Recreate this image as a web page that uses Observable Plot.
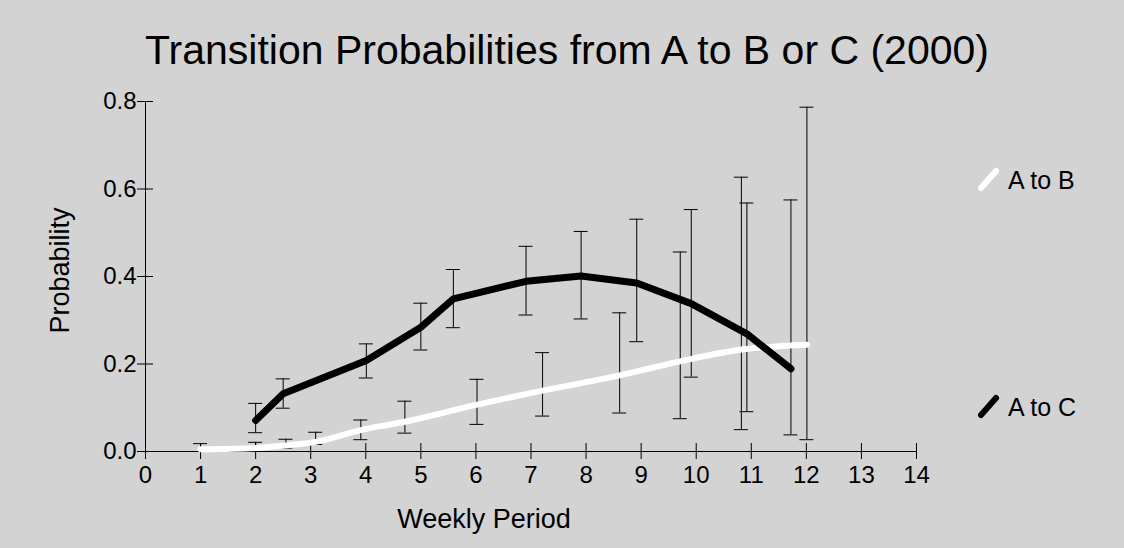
<!DOCTYPE html>
<html>
<head>
<meta charset="utf-8">
<script src="https://cdn.jsdelivr.net/npm/d3@7"></script>
<script src="https://cdn.jsdelivr.net/npm/@observablehq/plot@0.6"></script>
<style>
  html, body { margin: 0; padding: 0; background: #d3d3d3; }
  #chart { width: 1124px; height: 548px; overflow: hidden; }
</style>
</head>
<body>
<div id="chart"></div>
<script>
// ---- data ----
const titleText = "Transition Probabilities from A to B or C (2000)";
const xLabel = "Weekly Period";
const yLabel = "Probability";
const xTicks = [0, 1, 2, 3, 4, 5, 6, 7, 8, 9, 10, 11, 12, 13, 14];
const yTicks = [0.0, 0.2, 0.4, 0.6, 0.8];

const seriesNames = ["A to B", "A to C"];
const seriesColors = ["white", "black"];

// A to B (white)
const abX  = [1, 2, 2.55, 3.09, 3.91, 4.71, 6.02, 7.21, 8.61, 9.71, 10.82, 12.01];
const abY  = [0.005, 0.008, 0.014, 0.022, 0.049, 0.068, 0.107, 0.139, 0.174, 0.206, 0.233, 0.244];
const abLo = [0.0, 0.0, 0.008, 0.016, 0.027, 0.042, 0.062, 0.081, 0.088, 0.075, 0.050, 0.027];
const abHi = [0.018, 0.021, 0.028, 0.044, 0.072, 0.115, 0.165, 0.226, 0.317, 0.456, 0.627, 0.787];

// A to C (black)
const acX  = [2, 2.5, 4.01, 5.0, 5.59, 6.91, 7.91, 8.92, 9.91, 10.92, 11.72];
const acY  = [0.071, 0.132, 0.208, 0.284, 0.349, 0.389, 0.401, 0.385, 0.338, 0.269, 0.189];
const acLo = [0.043, 0.099, 0.168, 0.232, 0.283, 0.312, 0.303, 0.251, 0.170, 0.091, 0.038];
const acHi = [0.110, 0.166, 0.246, 0.339, 0.416, 0.469, 0.503, 0.531, 0.553, 0.568, 0.575];

// ---- tables built from arrays ----
const ab = abX.map((x, i) => ({x, y: abY[i], lo: abLo[i], hi: abHi[i]}));
const ac = acX.map((x, i) => ({x, y: acY[i], lo: acLo[i], hi: acHi[i]}));
const bars = [...ab, ...ac];

const font = "'Liberation Sans', Arial, Helvetica, sans-serif";

const plot = Plot.plot({
  width: 1124,
  height: 548,
  marginLeft: 145,
  marginRight: 208,
  marginTop: 101,
  marginBottom: 97,
  style: {background: "#d3d3d3", fontFamily: font, color: "black", overflow: "visible"},
  x: {domain: [0, 14], axis: null},
  y: {domain: [0, 0.8], axis: null},
  marks: [
    // axis lines
    Plot.ruleX([0], {stroke: "black", strokeWidth: 1}),
    Plot.ruleY([0], {stroke: "black", strokeWidth: 1}),
    // crossing ticks
    Plot.ruleX(xTicks, {x: d => d, y1: 0, y2: 0, insetTop: -8, insetBottom: -8, stroke: "black"}),
    Plot.ruleY(yTicks, {y: d => d, x1: 0, x2: 0, insetLeft: -8, insetRight: -8, stroke: "black"}),
    // tick labels
    Plot.text(xTicks, {x: d => d, y: 0, dy: 24, text: d => String(d), fontSize: 24, fill: "black"}),
    Plot.text(yTicks, {x: 0, y: d => d, dx: -9, text: d => d.toFixed(1), textAnchor: "end", fontSize: 24, fill: "black"}),
    // error bars
    Plot.ruleX(bars, {x: "x", y1: "lo", y2: "hi", stroke: "black", strokeWidth: 1}),
    Plot.ruleY(bars, {y: "hi", x1: "x", x2: "x", insetLeft: -7, insetRight: -7, stroke: "black", strokeWidth: 1}),
    Plot.ruleY(bars, {y: "lo", x1: "x", x2: "x", insetLeft: -7, insetRight: -7, stroke: "black", strokeWidth: 1}),
    // lines
    Plot.line(ab, {x: "x", y: "y", stroke: seriesColors[0], strokeWidth: 6, curve: "monotone-x", strokeLinecap: "round"}),
    Plot.line(ac, {x: "x", y: "y", stroke: seriesColors[1], strokeWidth: 7, strokeLinecap: "round", strokeLinejoin: "round"}),
    // title and axis labels
    Plot.text([titleText], {frameAnchor: "top", lineAnchor: "bottom", dx: 36, dy: -38, fontSize: 41, fill: "black"}),
    Plot.text([xLabel], {frameAnchor: "bottom", lineAnchor: "bottom", dx: -47, dy: 76, fontSize: 27, fill: "black"}),
    Plot.text([yLabel], {frameAnchor: "left", lineAnchor: "middle", dx: -85, dy: -6, rotate: -90, textAnchor: "middle", fontSize: 27, fill: "black"})
  ]
});

// legend
const svg = d3.select(plot);
const legendTops = [189, 416];
const leg = svg.append("g").attr("font-family", font).attr("font-size", 25).attr("text-anchor", "start");
seriesNames.forEach((name, i) => {
  const g = leg.append("g").attr("transform", `translate(980,${legendTops[i]})`);
  g.append("line")
    .attr("x1", 1).attr("y1", -1).attr("x2", 16).attr("y2", -18)
    .attr("stroke", seriesColors[i]).attr("stroke-width", 6).attr("stroke-linecap", "round");
  g.append("text").attr("x", 28).attr("y", 0).attr("fill", "black").attr("text-anchor", "start").text(name);
});

document.getElementById("chart").appendChild(plot);
</script>
</body>
</html>
